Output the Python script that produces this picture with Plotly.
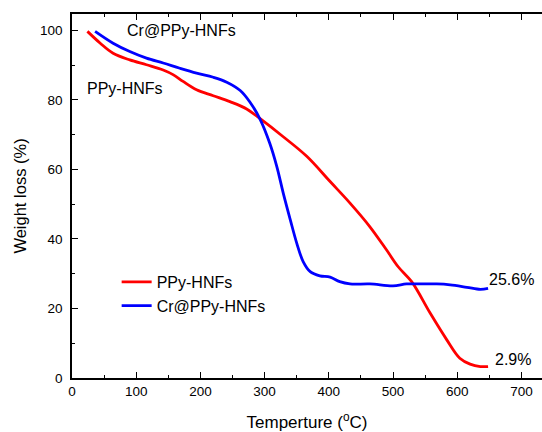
import plotly.graph_objects as go

# PPy-HNFs
ppy_T = [24, 44, 64, 90, 116, 142, 158, 173, 194, 220, 246, 272, 293, 329, 366, 402, 433, 464, 490, 508, 529, 558, 584, 604, 620, 636, 648]
ppy_W = [99.7, 96.3, 93.4, 91.5, 90.1, 88.6, 87.2, 85.3, 82.9, 81.2, 79.5, 77.4, 74.6, 69.4, 63.7, 56.5, 50.3, 43.5, 36.8, 32.0, 27.7, 18.6, 10.9, 5.7, 4.0, 3.3, 3.3]

# Cr@PPy-HNFs
cr_T = [36, 64, 90, 116, 142, 168, 194, 220, 241, 262, 277, 293, 308, 319, 329, 340, 350, 360, 371, 386, 402, 417, 433, 464, 500, 521, 542, 568, 589, 615, 636, 648]
cr_W = [99.7, 96.3, 93.9, 92.0, 90.6, 89.1, 87.7, 86.5, 85.1, 82.7, 79.4, 74.4, 67.5, 60.8, 53.2, 45.5, 38.8, 33.5, 30.6, 29.4, 29.0, 27.7, 27.05, 27.05, 26.5, 27.05, 27.05, 27.05, 26.8, 26.1, 25.5, 25.8]

x_ticks = [0, 100, 200, 300, 400, 500, 600, 700]
y_ticks = [0, 20, 40, 60, 80, 100]

FONT = "Liberation Sans, Arial, sans-serif"

fig = go.Figure()
fig.add_trace(go.Scatter(x=ppy_T, y=ppy_W, mode="lines", name="PPy-HNFs",
                         line=dict(color="#ff0000", width=2.8, shape="spline", smoothing=1.0)))
fig.add_trace(go.Scatter(x=cr_T, y=cr_W, mode="lines", name="Cr@PPy-HNFs",
                         line=dict(color="#0000ff", width=2.8, shape="spline", smoothing=1.0)))

ann = [
    dict(text="Cr@PPy-HNFs", x=171, y=99.9, xanchor="center"),
    dict(text="PPy-HNFs", x=81.8, y=83.2, xanchor="center"),
    dict(text="25.6%", x=646, y=28.2, xanchor="left"),
    dict(text="2.9%", x=656, y=5.2, xanchor="left"),
]
for a in ann:
    fig.add_annotation(text=a["text"], x=a["x"], y=a["y"], xanchor=a["xanchor"], yanchor="middle",
                       showarrow=False, font=dict(size=16, color="black", family=FONT))

fig.update_layout(
    width=542, height=432,
    margin=dict(l=72, r=0, t=14, b=54),
    paper_bgcolor="white", plot_bgcolor="white",
    font=dict(family=FONT, color="black"),
    showlegend=True,
    legend=dict(x=0.095, y=0.231, xanchor="left", yanchor="middle", bgcolor="rgba(0,0,0,0)",
                font=dict(size=16, family=FONT), tracegroupgap=0, itemwidth=30),
    xaxis=dict(range=[0, 732], tickvals=x_ticks, ticks="inside", ticklen=6, tickwidth=1.2,
               tickcolor="black", showline=True, linecolor="black", linewidth=1.5,
               mirror="ticks", showgrid=False, zeroline=False, automargin=False,
               tickfont=dict(size=13.5, family=FONT),
               minor=dict(dtick=50, ticks="inside", ticklen=3.5, tickcolor="black", tickwidth=1.2),
               title=dict(text="Temperture (<sup>o</sup>C)", font=dict(size=17, family=FONT), standoff=25)),
    yaxis=dict(range=[0, 104.7], tickvals=y_ticks, ticks="inside", ticklen=6, tickwidth=1.2,
               tickcolor="black", showline=True, linecolor="black", linewidth=1.5,
               mirror=False, showgrid=False, zeroline=False, ticklabelstandoff=5, automargin=False,
               tickfont=dict(size=13.5, family=FONT),
               minor=dict(dtick=10, ticks="inside", ticklen=3.5, tickcolor="black", tickwidth=1.2),
               title=dict(text="Weight loss (%)", font=dict(size=16.5, family=FONT), standoff=9)),
)

fig.write_html("out.html")
